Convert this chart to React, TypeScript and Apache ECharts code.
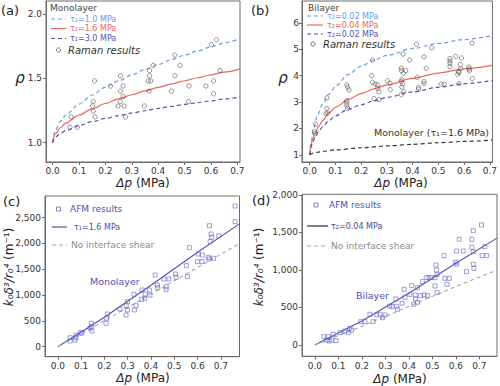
import React, { useEffect, useRef } from "react";
import * as echarts from "echarts";

const FONT = "DejaVu Sans";

// ---------- tick labels ----------
const xTicks = [0, 0.1, 0.2, 0.3, 0.4, 0.5, 0.6, 0.7];
const aYTicks = [1.0, 1.5, 2.0];
const bYTicks = [1, 2, 3, 4, 5, 6];
const cYTicks = [0, 500, 1000, 1500, 2000, 2500];
const dYTicks = [0, 500, 1000, 1500, 2000];

// ---------- panel (a): monolayer Raman ----------
const aRaman: [number, number][] = [
  [0.070, 1.20], [0.066, 1.12], [0.094, 1.12], [0.159, 1.48], [0.154, 1.32], [0.151, 1.285],
  [0.154, 1.245], [0.161, 1.20], [0.219, 1.44], [0.257, 1.52], [0.257, 1.40], [0.267, 1.44],
  [0.267, 1.36], [0.257, 1.32], [0.248, 1.285], [0.271, 1.285], [0.276, 1.20], [0.348, 1.285],
  [0.365, 1.40], [0.362, 1.48], [0.372, 1.48], [0.367, 1.52], [0.367, 1.56], [0.381, 1.60],
  [0.450, 1.40], [0.463, 1.52], [0.463, 1.68], [0.483, 1.60], [0.517, 1.44], [0.515, 1.32],
  [0.581, 1.44], [0.610, 1.48], [0.610, 1.38], [0.602, 1.76], [0.621, 1.80], [0.634, 1.56],
];
const aTau10: [number, number][] = [
  [0, 1.0], [0.01, 1.096], [0.03, 1.166], [0.05, 1.215], [0.1, 1.30], [0.15, 1.37], [0.2, 1.43],
  [0.25, 1.48], [0.3, 1.526], [0.35, 1.568], [0.4, 1.607], [0.45, 1.644], [0.5, 1.679],
  [0.55, 1.712], [0.6, 1.744], [0.65, 1.774], [0.71, 1.809],
];
const aTau16: [number, number][] = [
  [0, 1.0], [0.01, 1.068], [0.03, 1.118], [0.05, 1.152], [0.1, 1.215], [0.15, 1.263], [0.2, 1.304],
  [0.25, 1.34], [0.3, 1.372], [0.35, 1.402], [0.4, 1.43], [0.45, 1.456], [0.5, 1.481],
  [0.55, 1.504], [0.6, 1.527], [0.65, 1.548], [0.71, 1.573],
];
const aTau30: [number, number][] = [
  [0, 1.0], [0.01, 1.042], [0.03, 1.073], [0.05, 1.094], [0.1, 1.133], [0.15, 1.163], [0.2, 1.188],
  [0.25, 1.21], [0.3, 1.23], [0.35, 1.248], [0.4, 1.266], [0.45, 1.282], [0.5, 1.297],
  [0.55, 1.311], [0.6, 1.325], [0.65, 1.339], [0.71, 1.354],
];

// ---------- panel (b): bilayer Raman ----------
const bRaman: [number, number][] = [
  [0.022, 2.16], [0.022, 1.80], [0.018, 1.88], [0.067, 3.16], [0.067, 2.76], [0.063, 2.56],
  [0.070, 2.58], [0.144, 3.65], [0.147, 3.56], [0.153, 3.46], [0.144, 3.05], [0.144, 2.96],
  [0.144, 2.86], [0.147, 2.76], [0.244, 4.59], [0.241, 4.00], [0.244, 3.75], [0.254, 3.68],
  [0.264, 3.65], [0.264, 3.52], [0.269, 3.39], [0.250, 3.13], [0.269, 3.09], [0.302, 3.81],
  [0.312, 3.72], [0.313, 3.47], [0.363, 4.82], [0.356, 4.29], [0.356, 4.19], [0.364, 4.10],
  [0.373, 4.19], [0.358, 3.85], [0.356, 3.78], [0.361, 3.70], [0.358, 3.57], [0.366, 3.39],
  [0.356, 3.28], [0.389, 4.59], [0.415, 5.19], [0.444, 4.71], [0.418, 3.94], [0.423, 3.56],
  [0.423, 3.49], [0.444, 3.78], [0.444, 3.70], [0.453, 4.28], [0.474, 5.06], [0.511, 3.68],
  [0.523, 3.68], [0.545, 4.65], [0.545, 4.56], [0.545, 4.47], [0.545, 4.35], [0.567, 4.73],
  [0.590, 4.67], [0.585, 4.42], [0.587, 4.27], [0.578, 4.16], [0.575, 4.05], [0.580, 4.12],
  [0.580, 3.70], [0.619, 4.33], [0.619, 4.25], [0.621, 4.18], [0.631, 5.23], [0.632, 3.89],
];
const bTau002a: [number, number][] = [
  [0, 1.0], [0.005, 1.45], [0.015, 2.0], [0.03, 2.5], [0.05, 2.92], [0.075, 3.3], [0.1, 3.6],
  [0.15, 4.05], [0.2, 4.36], [0.25, 4.59], [0.3, 4.77], [0.4, 5.03], [0.5, 5.22], [0.6, 5.37], [0.71, 5.52],
];
const bTau004: [number, number][] = [
  [0, 1.0], [0.005, 1.35], [0.01, 1.55], [0.02, 1.8], [0.035, 2.08], [0.05, 2.3], [0.075, 2.6],
  [0.1, 2.8], [0.15, 3.1], [0.2, 3.32], [0.25, 3.5], [0.3, 3.65], [0.4, 3.9], [0.5, 4.1], [0.6, 4.26], [0.71, 4.39],
];
const bTau002b: [number, number][] = [
  [0, 1.0], [0.005, 1.28], [0.01, 1.44], [0.02, 1.65], [0.035, 1.89], [0.05, 2.07], [0.075, 2.3],
  [0.1, 2.48], [0.15, 2.73], [0.2, 2.9], [0.25, 3.05], [0.3, 3.18], [0.4, 3.39], [0.5, 3.56], [0.6, 3.7], [0.71, 3.82],
];
const bMono: [number, number][] = [
  [0, 1.0], [0.01, 1.06], [0.03, 1.1], [0.05, 1.13], [0.1, 1.19], [0.2, 1.27], [0.3, 1.34],
  [0.4, 1.4], [0.5, 1.46], [0.6, 1.51], [0.71, 1.56],
];

// ---------- panel (c): monolayer AFM ----------
const cAFM: [number, number][] = [
  [0.761, 2727], [0.761, 2423], [0.651, 2345], [0.658, 2184], [0.661, 2121], [0.654, 2038],
  [0.691, 2148], [0.565, 1919], [0.603, 1796], [0.620, 1777], [0.599, 1648], [0.619, 1648],
  [0.646, 1732], [0.650, 1700], [0.668, 1712], [0.552, 1570], [0.556, 1357], [0.418, 1389],
  [0.456, 1311], [0.477, 1311], [0.505, 1408], [0.508, 1344], [0.427, 1195], [0.429, 1144],
  [0.465, 1163], [0.465, 1111], [0.393, 1099], [0.375, 1021], [0.396, 1001], [0.362, 1099],
  [0.327, 1015], [0.373, 937], [0.360, 918], [0.299, 872], [0.336, 795], [0.329, 711],
  [0.293, 795], [0.299, 711], [0.293, 614], [0.267, 730], [0.213, 633], [0.210, 549],
  [0.207, 452], [0.144, 452], [0.144, 388], [0.147, 304], [0.138, 355], [0.098, 278],
  [0.103, 259], [0.078, 226], [0.078, 174], [0.074, 129], [0.053, 174], [0.053, 110],
];
const cFit: [number, number][] = [
  [0, 0], [0.2, 570], [0.4, 1190], [0.6, 1830], [0.78, 2380],
];
const cNoShear: [number, number][] = [
  [0, 0], [0.2, 505], [0.4, 1020], [0.6, 1535], [0.78, 2000],
];

// ---------- panel (d): bilayer AFM ----------
const dAFM: [number, number][] = [
  [0.709, 1600], [0.674, 1524], [0.614, 1409], [0.668, 1409], [0.668, 1302], [0.723, 1311],
  [0.674, 1244], [0.712, 1191], [0.731, 1191], [0.603, 1253], [0.631, 1253], [0.550, 1191],
  [0.599, 1102], [0.603, 1076], [0.674, 1076], [0.677, 1022], [0.645, 978], [0.515, 1067],
  [0.518, 1000], [0.520, 942], [0.511, 898], [0.474, 898], [0.485, 898], [0.495, 898],
  [0.457, 844], [0.553, 889], [0.572, 889], [0.562, 809], [0.511, 787], [0.520, 698],
  [0.436, 764], [0.412, 791], [0.380, 742], [0.404, 676], [0.427, 667], [0.450, 658],
  [0.465, 667], [0.479, 658], [0.428, 613], [0.421, 542], [0.436, 569], [0.383, 636],
  [0.348, 516], [0.328, 511], [0.371, 556], [0.345, 613], [0.318, 520], [0.288, 364],
  [0.298, 400], [0.351, 476], [0.277, 409], [0.234, 409], [0.263, 400], [0.248, 311],
  [0.213, 311], [0.195, 311], [0.149, 222], [0.156, 196], [0.128, 187], [0.142, 164],
  [0.107, 164], [0.078, 142], [0.038, 111], [0.057, 111], [0.071, 67], [0.090, 58],
  [0.061, 53], [0.050, 67],
];
const dFit: [number, number][] = [
  [0, 0], [0.2, 320], [0.4, 690], [0.6, 1090], [0.775, 1425],
];
const dNoShear: [number, number][] = [
  [0, 0], [0.2, 250], [0.4, 515], [0.6, 780], [0.775, 1000],
];

// ---------- colours ----------
const C_BLUE = "#6b9be6";
const C_RED = "#ef6461";
const C_PURPLE = "#5653b3";
const C_GREY_PT = "#555555";
const C_AFM = "#6464c8";
const C_FIT = "#4f4fb5";
const C_NOSHEAR = "#a8a8a8";
const C_AXIS = "#6a6a6a";

function xAxis(gridIndex: number, min: number, max: number, margin: number) {
  return {
    type: "value", gridIndex, min, max,
    axisLine: { show: true, onZero: false, lineStyle: { color: C_AXIS, width: 1 } },
    axisTick: { show: true, customValues: xTicks, length: 3, lineStyle: { color: C_AXIS } },
    axisLabel: {
      customValues: xTicks, margin, fontSize: 9, fontFamily: FONT, color: "#333",
      formatter: (v: number) => v.toFixed(1),
    },
    splitLine: { show: false },
  };
}
function yAxis(gridIndex: number, min: number, max: number, ticks: number[], fmt: (v: number) => string, margin = 4) {
  return {
    type: "value", gridIndex, min, max,
    axisLine: { show: true, onZero: false, lineStyle: { color: C_AXIS, width: 1 } },
    axisTick: { show: true, customValues: ticks, length: 3, lineStyle: { color: C_AXIS } },
    axisLabel: { customValues: ticks, margin, fontSize: 9, fontFamily: FONT, color: "#333", formatter: fmt },
    splitLine: { show: false },
  };
}

function curve(data: [number, number][], idx: number, color: string, dashed: boolean, smooth: any = 0.3, width = 1.2) {
  return {
    type: "line", data, xAxisIndex: idx, yAxisIndex: idx, smooth, smoothMonotone: "x",
    showSymbol: false, symbol: "none", silent: true,
    lineStyle: { color, width, type: dashed ? [4, 3] : "solid" },
    z: 2,
  };
}
function circles(data: [number, number][], idx: number) {
  return {
    type: "scatter", data, xAxisIndex: idx, yAxisIndex: idx, symbol: "circle", symbolSize: 4.3,
    itemStyle: { color: "rgba(0,0,0,0)", borderColor: C_GREY_PT, borderWidth: 0.8 }, z: 3,
  };
}
function squares(data: [number, number][], idx: number) {
  return {
    type: "scatter", data, xAxisIndex: idx, yAxisIndex: idx, symbol: "rect", symbolSize: 4,
    itemStyle: { color: "rgba(0,0,0,0)", borderColor: C_AFM, borderWidth: 0.8 }, z: 3,
  };
}

function txt(x: number, y: number, text: string, size: number, fill: string, extra: any = {}) {
  return {
    type: "text", x, y, silent: true,
    style: { text, fill, fontSize: size, fontFamily: FONT, align: "left", verticalAlign: "middle", ...extra },
  };
}
function hline(x1: number, x2: number, y: number, stroke: string, dashed: boolean, w = 1.2) {
  return {
    type: "line", silent: true, shape: { x1, y1: y, x2, y2: y },
    style: { stroke, lineWidth: w, lineDash: dashed ? [4, 3] : null },
  };
}

const italicRich = {
  i: { fontStyle: "italic", fontSize: 12, fontFamily: FONT, fill: "#222" },
  n: { fontSize: 12, fontFamily: FONT, fill: "#222" },
};

export default function App() {
  const ref = useRef<HTMLDivElement>(null);
  useEffect(() => {
    if (!ref.current) return;
    const chart = echarts.init(ref.current, undefined, { renderer: "svg" });
    const gridBase = { show: true, borderColor: C_AXIS, borderWidth: 1, backgroundColor: "transparent", containLabel: false };
    const option: any = {
      animation: false,
      backgroundColor: "#ffffff",
      grid: [
        { ...gridBase, left: 46, top: 1, width: 194, height: 161 },
        { ...gridBase, left: 302, top: 1, width: 196, height: 161 },
        { ...gridBase, left: 45, top: 196, width: 194.5, height: 160.7 },
        { ...gridBase, left: 302, top: 194.3, width: 195, height: 162 },
      ],
      xAxis: [
        xAxis(0, -0.025, 0.71, 4),
        xAxis(1, -0.03, 0.71, 4),
        xAxis(2, -0.055, 0.78, 5),
        xAxis(3, -0.055, 0.775, 5),
      ],
      yAxis: [
        yAxis(0, 0.85, 2.1, aYTicks, (v) => v.toFixed(1)),
        yAxis(1, 0.73, 6.83, bYTicks, (v) => String(Math.round(v)), 3),
        yAxis(2, -194, 2920, cYTicks, (v) => Math.round(v).toLocaleString("en-US")),
        yAxis(3, -151, 2009, dYTicks, (v) => Math.round(v).toLocaleString("en-US")),
      ],
      series: [
        curve(aTau10, 0, C_BLUE, true),
        curve(aTau16, 0, C_RED, false),
        curve(aTau30, 0, C_PURPLE, true),
        circles(aRaman, 0),
        curve(bTau002a, 1, C_BLUE, true),
        curve(bTau004, 1, C_RED, false),
        curve(bTau002b, 1, C_PURPLE, true),
        curve(bMono, 1, "#333333", true),
        circles(bRaman, 1),
        curve(cFit, 2, C_FIT, false, false, 1.1),
        curve(cNoShear, 2, C_NOSHEAR, true, false, 1.1),
        squares(cAFM, 2),
        curve(dFit, 3, C_FIT, false, false, 1.1),
        curve(dNoShear, 3, C_NOSHEAR, true, false, 1.1),
        squares(dAFM, 3),
      ],
      graphic: [
        // panel labels
        txt(1, 10, "(a)", 13, "#222"),
        txt(251, 10, "(b)", 13, "#222"),
        txt(3, 201, "(c)", 13, "#222"),
        txt(252, 200, "(d)", 13, "#222"),
        // axis titles
        txt(20, 78, "ρ", 15, "#222", { fontStyle: "italic", align: "center" }),
        txt(283, 78, "ρ", 15, "#222", { fontStyle: "italic", align: "center" }),
        txt(143, 183, "{i|Δp}{n| (MPa)}", 12, "#222", { align: "center", rich: italicRich }),
        txt(401, 183, "{i|Δp}{n| (MPa)}", 12, "#222", { align: "center", rich: italicRich }),
        txt(143, 378, "{i|Δp}{n| (MPa)}", 12, "#222", { align: "center", rich: italicRich }),
        txt(400, 379, "{i|Δp}{n| (MPa)}", 12, "#222", { align: "center", rich: italicRich }),
        { ...txt(9, 267, "{i|k₀δ³/r₀⁴}{n| (m⁻¹)}", 12, "#222", { align: "center", rich: italicRich }), rotation: Math.PI / 2 },
        { ...txt(259, 267, "{i|k₀δ³/r₀⁴}{n| (m⁻¹)}", 12, "#222", { align: "center", rich: italicRich }), rotation: Math.PI / 2 },
        // legend (a)
        txt(50, 8, "Monolayer", 9, "#444"),
        hline(51, 66, 19, C_BLUE, true),
        txt(70, 19, "τ₁=1.0 MPa", 8, C_BLUE),
        hline(51, 66, 28.5, C_RED, false),
        txt(70, 28.5, "τ₁=1.6 MPa", 8, C_RED),
        hline(51, 66, 38.5, C_PURPLE, true),
        txt(70, 38.5, "τ₁=3.0 MPa", 8, C_PURPLE),
        { type: "circle", silent: true, shape: { cx: 58.5, cy: 50, r: 2.1 }, style: { fill: "none", stroke: C_GREY_PT, lineWidth: 0.8 } },
        txt(68, 50, "Raman results", 10, "#333", { fontStyle: "italic" }),
        // legend (b)
        txt(308, 8, "Bilayer", 9, "#444"),
        hline(307, 323, 16, C_BLUE, true),
        txt(327, 16, "τ₂=0.02 MPa", 8, C_BLUE),
        hline(307, 323, 25, C_RED, false),
        txt(327, 25, "τ₂=0.04 MPa", 8, C_RED),
        hline(307, 323, 34, C_PURPLE, true),
        txt(327, 34, "τ₂=0.02 MPa", 8, C_PURPLE),
        { type: "circle", silent: true, shape: { cx: 313, cy: 44, r: 2.1 }, style: { fill: "none", stroke: C_GREY_PT, lineWidth: 0.8 } },
        txt(323, 44, "Raman results", 10, "#333", { fontStyle: "italic" }),
        txt(374, 132.5, "Monolayer (τ₁=1.6 MPa)", 9.5, "#333"),
        // legend (c)
        { type: "rect", silent: true, shape: { x: 56.5, y: 207, width: 4, height: 4 }, style: { fill: "none", stroke: C_AFM, lineWidth: 0.8 } },
        txt(70, 209, "AFM results", 9, C_FIT),
        hline(52, 67, 227, C_FIT, false),
        txt(74, 227, "τ₁=1.6 MPa", 8, C_FIT),
        hline(52, 67, 245, C_NOSHEAR, true),
        txt(71, 245, "No interface shear", 9, "#8c8c8c"),
        txt(90, 281, "Monolayer", 9.5, C_FIT),
        // legend (d)
        { type: "rect", silent: true, shape: { x: 314, y: 203, width: 4, height: 4 }, style: { fill: "none", stroke: C_AFM, lineWidth: 0.8 } },
        txt(329, 205, "AFM results", 9, C_FIT),
        hline(307, 328, 226, "#2c2c4c", false),
        txt(331, 226, "τ₂=0.04 MPa", 8, "#4a4a80"),
        hline(307, 328, 246, C_NOSHEAR, true),
        txt(331, 246, "No interface shear", 9, "#8c8c8c"),
        txt(356, 295, "Bilayer", 9.5, C_FIT),
      ],
    };
    chart.setOption(option);
    return () => chart.dispose();
  }, []);
  return <div ref={ref} style={{ position: "fixed", left: 0, top: 0, width: 500, height: 386 }} />;
}
